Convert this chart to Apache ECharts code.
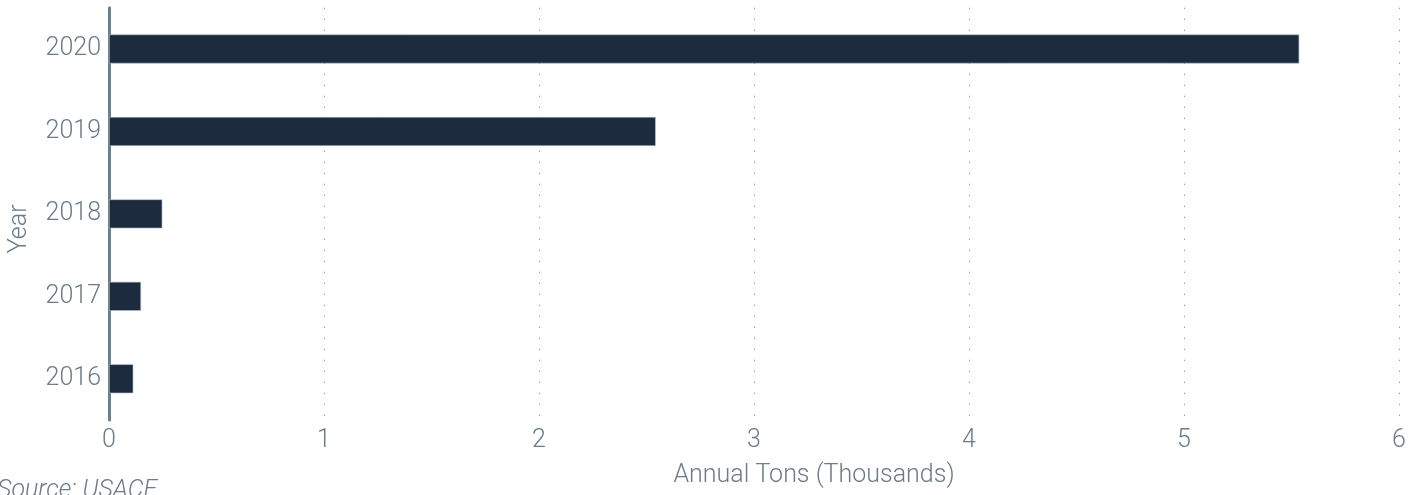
<!DOCTYPE html>
<html><head><meta charset="utf-8">
<script src="https://cdn.jsdelivr.net/npm/echarts@6/dist/echarts.min.js"></script>
<style>html,body{margin:0;padding:0;background:#fff}#c{width:1419px;height:495px}</style>
</head><body><div id="c"></div>
<script>
const categories = ['2016', '2017', '2018', '2019', '2020'];
const values = [0.113, 0.149, 0.248, 2.543, 5.536];
const xTicks = [0, 1, 2, 3, 4, 5, 6];

const FONT = 'Roboto';
const TXT = '#6b7c87';
const chart = echarts.init(document.getElementById('c'));
chart.setOption({
  animation: false,
  grid: { left: 109, right: 20, top: 7.75, bottom: 75, containLabel: false, outerBoundsMode: 'none' },
  xAxis: {
    type: 'value', min: xTicks[0], max: xTicks[xTicks.length - 1], interval: 1,
    name: 'Annual Tons (Thousands)', nameLocation: 'middle', nameGap: 43,
    nameTextStyle: { color: TXT, fontSize: 25, fontFamily: FONT, fontWeight: 300, padding: [0, 0, 0, 120] },
    axisLine: { show: false }, axisTick: { show: false },
    axisLabel: { color: TXT, fontSize: 25, fontFamily: FONT, fontWeight: 300, margin: 8 },
    splitLine: { show: true, lineStyle: { color: '#6f7e88', width: 1, type: [1, 10] } }
  },
  yAxis: {
    type: 'category', data: categories,
    name: 'Year', nameLocation: 'middle', nameGap: 77, nameRotate: 90,
    nameTextStyle: { color: TXT, fontSize: 25, fontFamily: FONT, fontWeight: 300, padding: [0, 30, 0, 0] },
    axisLine: { show: true, lineStyle: { color: '#6e7f89', width: 3 } },
    axisTick: { show: false },
    axisLabel: { color: TXT, fontSize: 25, fontFamily: FONT, fontWeight: 300, margin: 8 }
  },
  series: [{
    type: 'bar', data: values, barWidth: 29,
    itemStyle: { color: '#1c2b3e', borderColor: '#b9c3cc', borderWidth: 0.6 }
  }],
  graphic: [{
    type: 'text', left: -3, top: 478,
    style: { text: 'Source: USACE', fill: TXT, font: 'italic 300 25px Roboto' }
  }]
});
</script></body></html>
